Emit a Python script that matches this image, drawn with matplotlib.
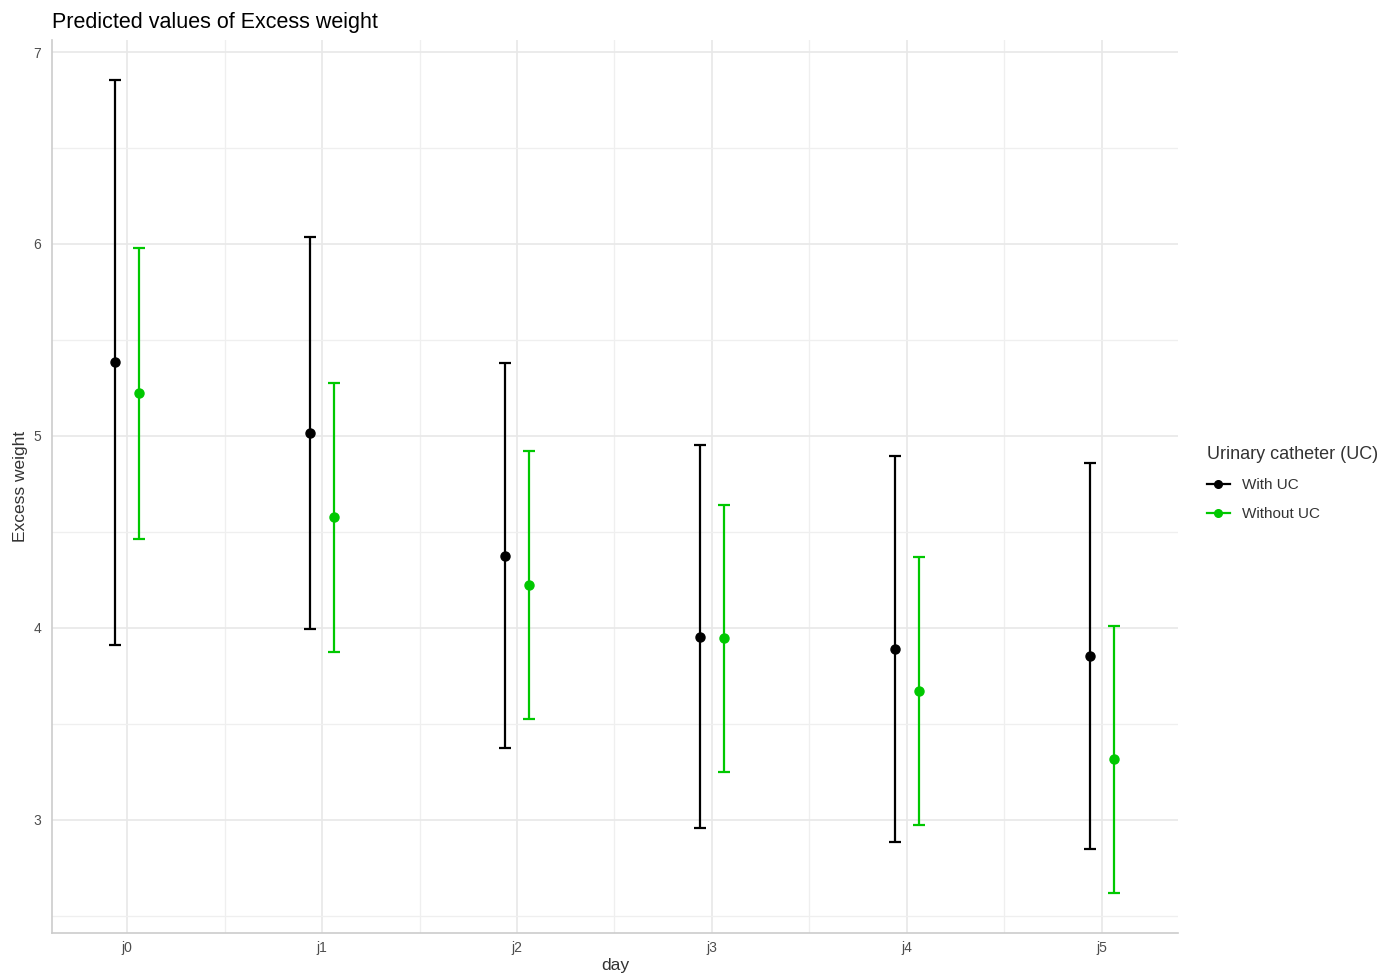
import numpy as np
import matplotlib
matplotlib.use("Agg")
import matplotlib.pyplot as plt
from matplotlib.ticker import MultipleLocator
from matplotlib.lines import Line2D

plt.rcParams["font.family"] = ["Liberation Sans", "DejaVu Sans"]

days = ["j0", "j1", "j2", "j3", "j4", "j5"]

with_uc = [5.385, 5.016, 4.375, 3.953, 3.891, 3.854]
with_uc_low = [3.911, 3.995, 3.375, 2.958, 2.885, 2.849]
with_uc_high = [6.854, 6.036, 5.380, 4.953, 4.896, 4.859]

without_uc = [5.224, 4.578, 4.224, 3.948, 3.672, 3.318]
without_uc_low = [4.464, 3.875, 3.526, 3.250, 2.974, 2.620]
without_uc_high = [5.979, 5.276, 4.922, 4.641, 4.370, 4.010]

series = [
    ("With UC", with_uc, with_uc_low, with_uc_high, "#000000", -0.062),
    ("Without UC", without_uc, without_uc_low, without_uc_high, "#00c800", 0.062),
]

fig = plt.figure(figsize=(13.94, 9.77), dpi=100)
ax = fig.add_axes([0.0373, 0.045, 0.8077, 0.914])

x = np.arange(len(days))
handles = []
for label, mid, lo, hi, color, off in series:
    mid = np.array(mid)
    err = [mid - np.array(lo), np.array(hi) - mid]
    ax.errorbar(x + off, mid, yerr=err, fmt="o", color=color, ecolor=color,
                elinewidth=1.6, capsize=4.3, capthick=1.6, markersize=6.5, zorder=3)
    handles.append(Line2D([0], [0], color=color, lw=1.6, marker="o", markersize=5.5))

ax.set_xlim(-0.385, 5.39)
ax.set_ylim(2.41, 7.0625)
ax.set_xticks(x)
ax.set_xticklabels(days)
ax.set_yticks([3, 4, 5, 6, 7])
ax.xaxis.set_minor_locator(MultipleLocator(1, offset=0.5))
ax.yaxis.set_minor_locator(MultipleLocator(0.5))

ax.grid(which="major", color="#e8e8e8", lw=1.2, zorder=0)
ax.grid(which="minor", color="#efefef", lw=0.9, zorder=0)
ax.set_axisbelow(True)
ax.tick_params(which="both", length=0, labelsize=10, colors="#4d4d4d")
ax.tick_params(axis="x", pad=6)
ax.tick_params(axis="y", pad=8)
ax.tick_params(which="minor", labelbottom=False, labelleft=False)

for side in ["top", "right"]:
    ax.spines[side].set_visible(False)
for side in ["left", "bottom"]:
    ax.spines[side].set_color("#cccccc")
    ax.spines[side].set_linewidth(1.2)

ax.set_xlabel("day", fontsize=12.5, color="#333333", labelpad=2)
ax.set_ylabel("Excess weight", fontsize=12.5, color="#333333", labelpad=4)
ax.set_title("Predicted values of Excess weight", loc="left", fontsize=15.5,
             color="#000000", pad=9)

leg = fig.legend(handles=handles, labels=[s[0] for s in series],
                 title="Urinary catheter (UC)", loc="center left",
                 bbox_to_anchor=(0.856, 0.505), frameon=False, fontsize=11,
                 title_fontsize=13, handlelength=1.5, labelspacing=1.0,
                 alignment="left")
leg.get_title().set_color("#333333")
for t in leg.get_texts():
    t.set_color("#333333")

fig.savefig("out.png", dpi=100)
